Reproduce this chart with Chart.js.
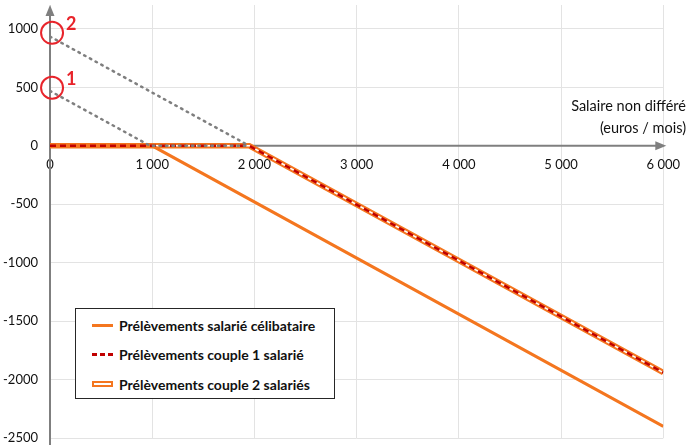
<!DOCTYPE html>
<html>
<head>
<meta charset="utf-8">
<script src="https://cdn.jsdelivr.net/npm/chart.js@4.4.1/dist/chart.umd.min.js"></script>
<style>
  body { margin: 0; background: #fff; }
  #wrap { position: relative; width: 691px; height: 445px; }
  #legend {
    position: absolute; left: 75px; top: 308px; width: 260px; height: 91px;
    border: 1.5px solid #262626; background: #fff; box-sizing: border-box;
    font: bold 14px Lato, sans-serif; color: #111;
  }
  .row { position: absolute; left: 16px; height: 18px; display: flex; align-items: center; white-space: nowrap; }
  .sw { width: 21px; margin-right: 6px; box-sizing: border-box; }
</style>
</head>
<body>
<div id="wrap">
  <canvas id="myChart" width="691" height="445"></canvas>
  <div id="legend"></div>
</div>
<script>
const xTicks = [0, 1000, 2000, 3000, 4000, 5000, 6000];
const yTicks = [1000, 500, 0, -500, -1000, -1500, -2000, -2500];

const seriesNames = [
  'Prélèvements salarié célibataire',
  'Prélèvements couple 1 salarié',
  'Prélèvements couple 2 salariés'
];

const celibX = [0, 1000, 6000];
const celibY = [0, 0, -2400];
const couple1X = [0, 1950, 6000];
const couple1Y = [0, 0, -1940];
const couple2X = [0, 1950, 6000];
const couple2Y = [0, 0, -1940];

// pointillés gris de prolongement
const guide1X = [0, 980, 1950];
const guide1Y = [470, 0, 0];
const guide2X = [0, 1950];
const guide2Y = [935, 0];

// repères 1 et 2 sur l'axe vertical
const markLabels = ['1', '2'];
const markY = [497, 967];

const orange = '#F4761F';
const red = '#C00000';
const grey = '#7F7F7F';

function pts(xs, ys) {
  return xs.map((x, i) => ({ x: x, y: ys[i] }));
}

const fmtX = v => v === 0 ? '0' : String(v).replace(/\B(?=(\d{3})+(?!\d))/g, '\u202f');

const axesPlugin = {
  id: 'axes',
  beforeDatasetsDraw(chart) {
    const ctx = chart.ctx;
    const xs = chart.scales.x, ys = chart.scales.y;
    const x0 = xs.getPixelForValue(0), y0 = ys.getPixelForValue(0);
    const xEnd = xs.getPixelForValue(6000);
    ctx.save();
    ctx.strokeStyle = grey; ctx.fillStyle = grey; ctx.lineWidth = 2;
    // axe horizontal
    ctx.beginPath(); ctx.moveTo(x0, y0); ctx.lineTo(xEnd - 6, y0); ctx.stroke();
    ctx.beginPath(); ctx.moveTo(xEnd + 3, y0); ctx.lineTo(xEnd - 8, y0 - 4.5); ctx.lineTo(xEnd - 8, y0 + 4.5); ctx.closePath(); ctx.fill();
    // axe vertical
    ctx.beginPath(); ctx.moveTo(x0, 445); ctx.lineTo(x0, 14); ctx.stroke();
    ctx.beginPath(); ctx.moveTo(x0, 5); ctx.lineTo(x0 - 4.5, 16); ctx.lineTo(x0 + 4.5, 16); ctx.closePath(); ctx.fill();
    ctx.restore();
  },
  afterDatasetsDraw(chart) {
    const ctx = chart.ctx;
    const xs = chart.scales.x, ys = chart.scales.y;
    ctx.save();
    ctx.strokeStyle = '#E8242B'; ctx.fillStyle = '#E8242B'; ctx.lineWidth = 2;
    ctx.font = 'bold 18px Lato, sans-serif';
    ctx.textBaseline = 'middle';
    markY.forEach((v, i) => {
      const cx = xs.getPixelForValue(20), cy = ys.getPixelForValue(v);
      ctx.beginPath(); ctx.arc(cx, cy, 11, 0, Math.PI * 2); ctx.stroke();
      ctx.fillText(markLabels[i], cx + 14, cy - 9);
    });
    // titre de l'axe horizontal
    ctx.fillStyle = '#111';
    ctx.font = '14.5px Lato, sans-serif';
    ctx.textAlign = 'right';
    ctx.fillText('Salaire non différé', 686, 106);
    ctx.fillText('(euros / mois)', 686, 128);
    ctx.restore();
  }
};

const data = {
  datasets: [
    { label: 'guide2', data: pts(guide2X, guide2Y), borderColor: grey, borderWidth: 2.5, borderDash: [1.5, 5], borderCapStyle: 'round', pointRadius: 0, order: 0 },
    { label: 'guide1', data: pts(guide1X, guide1Y), borderColor: grey, borderWidth: 2.5, borderDash: [1.5, 5], borderCapStyle: 'round', pointRadius: 0, order: 0 },
    { label: seriesNames[1], data: pts(couple1X, couple1Y), borderColor: red, borderWidth: 2.5, borderDash: [6, 4], pointRadius: 0, order: 1 },
    { label: seriesNames[0], data: pts(celibX, celibY), borderColor: orange, borderWidth: 3, pointRadius: 0, order: 2 },
    { label: 'couple2-centre', data: pts(couple2X, couple2Y), borderColor: '#fff', borderWidth: 1.5, pointRadius: 0, order: 3 },
    { label: seriesNames[2], data: pts(couple2X, couple2Y), borderColor: orange, borderWidth: 5.5, pointRadius: 0, order: 4 }
  ]
};

const config = {
  type: 'line',
  data: data,
  options: {
    responsive: false,
    animation: false,
    layout: { padding: { top: 5, right: 21, bottom: 7, left: 0 } },
    plugins: { legend: { display: false }, tooltip: { enabled: false } },
    scales: {
      x: {
        type: 'linear',
        position: { y: 0 },
        min: 0, max: 6000,
        afterBuildTicks: s => { s.ticks = xTicks.map(v => ({ value: v })); },
        grid: { color: '#E3E3E3', drawTicks: false },
        border: { display: false },
        ticks: { padding: 11, color: '#111', font: { family: 'Lato', size: 13 }, callback: v => fmtX(v), maxRotation: 0 }
      },
      y: {
        min: -2500, max: 1205,
        afterBuildTicks: s => { s.ticks = yTicks.map(v => ({ value: v })); },
        afterFit: s => { s.width = 50; s.paddingTop = 0; s.paddingBottom = 0; },
        grid: { color: '#E3E3E3', drawTicks: false },
        border: { display: false },
        ticks: { padding: 12, color: '#111', font: { family: 'Lato', size: 13 }, callback: v => String(v) }
      }
    }
  },
  plugins: [axesPlugin]
};

const myChart = new Chart(document.getElementById('myChart'), config);

// légende encadrée
const swatches = [
  '<div class="sw" style="height:3px;background:' + orange + '"></div>',
  '<div class="sw" style="height:3px;background:repeating-linear-gradient(90deg,' + red + ' 0 5px,transparent 5px 8px)"></div>',
  '<div class="sw" style="height:6px;border:2px solid ' + orange + ';background:#fff"></div>'
];
const rowTops = [7, 36, 66];
const legendBox = document.getElementById('legend');
seriesNames.forEach((name, i) => {
  const row = document.createElement('div');
  row.className = 'row';
  row.style.top = rowTops[i] + 'px';
  row.innerHTML = swatches[i] + '<span>' + name + '</span>';
  legendBox.appendChild(row);
});
</script>
</body>
</html>
